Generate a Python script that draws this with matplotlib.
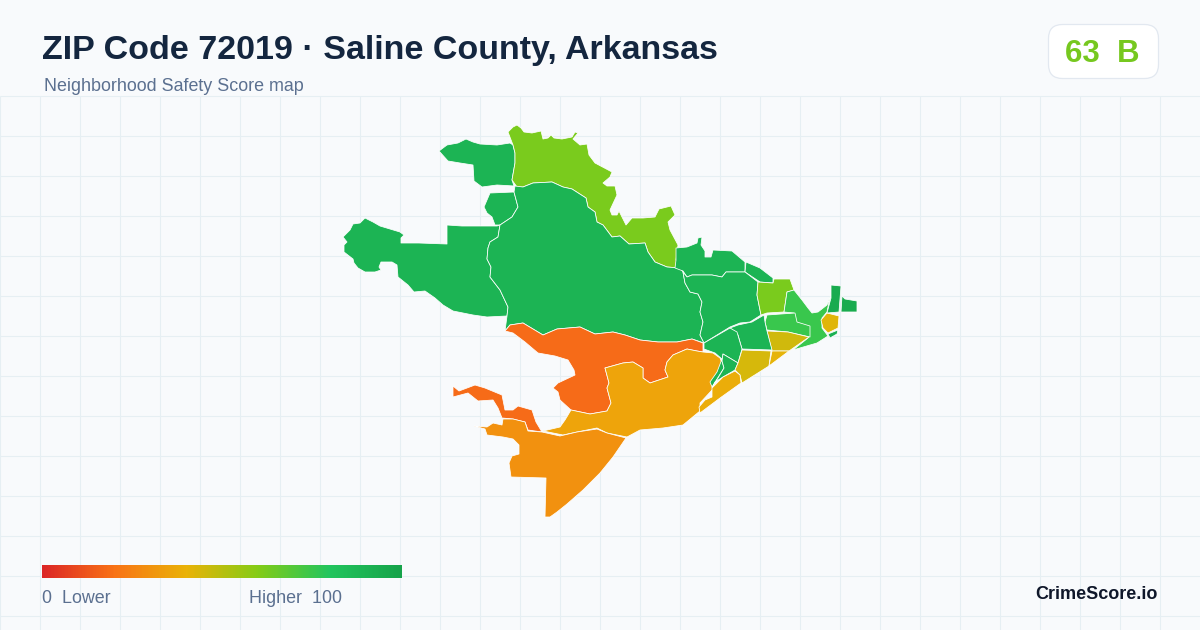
#PURPOSE: ZIP code safety score map, Saline County

#Required libraries
import numpy as np
import matplotlib
matplotlib.use('Agg')
import matplotlib.pyplot as plt
from matplotlib.colors import LinearSegmentedColormap
from matplotlib.patches import FancyBboxPatch, Polygon

plt.rcParams['font.family'] = ['Liberation Sans', 'DejaVu Sans']

title = 'ZIP Code 72019 · Saline County, Arkansas'
subtitle = 'Neighborhood Safety Score map'
score_text = '63  B'
brand = 'CrimeScore.io'
low_label = '0  Lower'
high_label = 'Higher  100'

#colour scale of the legend
scale_stops = [0, 0.2, 0.4, 0.6, 0.8, 1]
scale_colors = ['#dc2626', '#f97316', '#eab308', '#84cc16', '#22c55e', '#16a34a']

#outlines of the areas in pixels (x, y)
nw_top = [(439, 151), (447, 145), (458, 143), (466, 139), (473, 142), (480, 144), (497, 145), (510, 143),
          (513, 145), (515, 153), (515, 163), (512, 180), (514, 186), (497, 185), (482, 187), (474, 181),
          (473, 165), (460, 163), (448, 161)]
nw_small = [(490, 193), (514, 192), (518, 207), (512, 217), (500, 225), (495, 225), (492, 217), (487, 213),
            (484, 207)]
west = [(343, 237), (350, 230), (353, 224), (360, 223), (365, 218), (373, 222), (380, 226), (390, 229),
        (400, 232), (404, 235), (401, 238), (401, 243), (419, 243), (447, 244), (447, 225), (462, 226),
        (497, 226), (500, 225), (498, 237), (490, 242), (488, 248), (487, 259), (491, 267), (490, 277),
        (500, 290), (508, 307), (507, 316), (487, 317), (473, 315), (463, 313), (453, 311), (443, 305),
        (435, 298), (425, 291), (414, 292), (408, 285), (398, 277), (397, 265), (392, 262), (381, 262),
        (379, 267), (381, 270), (375, 272), (365, 272), (358, 268), (354, 263), (353, 259), (344, 252),
        (344, 245), (347, 242)]
north_lime = [(508, 132), (513, 127), (517, 125), (521, 128), (524, 132), (532, 133), (541, 131), (543, 139),
              (548, 138), (551, 135), (554, 138), (562, 139), (572, 137), (575, 132), (578, 133), (573, 139),
              (580, 145), (587, 144), (589, 155), (595, 163), (612, 172), (610, 177), (603, 183), (607, 186),
              (615, 186), (617, 195), (610, 210), (612, 215), (617, 215), (619, 211), (626, 225), (632, 218),
              (643, 218), (655, 217), (659, 209), (671, 206), (675, 215), (668, 222), (670, 230), (678, 245),
              (676, 260), (680, 268), (667, 267), (655, 262), (648, 252), (645, 243), (629, 244), (620, 236),
              (612, 237), (603, 225), (597, 222), (595, 212), (588, 207), (586, 198), (572, 189), (563, 187),
              (552, 182), (533, 183), (523, 187), (517, 187), (512, 180), (515, 163), (515, 153), (513, 145)]
central = [(515, 186), (523, 187), (533, 183), (552, 182), (563, 187), (572, 189), (586, 198), (588, 207),
           (595, 212), (597, 222), (603, 225), (612, 237), (620, 236), (629, 244), (645, 243), (648, 252),
           (655, 262), (667, 267), (680, 268), (683, 272), (685, 283), (690, 292), (698, 294), (702, 302),
           (700, 312), (703, 322), (700, 335), (704, 343), (692, 339), (677, 342), (658, 342), (640, 340),
           (625, 335), (613, 332), (595, 334), (580, 327), (557, 329), (543, 335), (533, 329), (523, 323),
           (510, 325), (505, 331), (507, 316), (508, 307), (500, 290), (490, 277), (491, 267), (487, 259),
           (488, 248), (490, 242), (498, 237), (500, 225), (512, 217), (518, 207), (514, 192)]
red_main = [(505, 331), (510, 325), (523, 323), (533, 329), (543, 335), (557, 329), (580, 327), (595, 334),
            (613, 332), (625, 335), (640, 340), (658, 342), (677, 342), (692, 339), (703, 343), (703, 352),
            (697, 351), (687, 349), (673, 355), (667, 362), (665, 370), (668, 377), (650, 383), (643, 378),
            (643, 368), (633, 362), (623, 363), (605, 368), (609, 383), (607, 388), (611, 403), (607, 411),
            (590, 414), (571, 410), (560, 400), (558, 392), (553, 388), (558, 383), (575, 375), (574, 370),
            (568, 360), (555, 356), (538, 353), (525, 342), (513, 333)]
red_strip = [(453, 386), (459, 391), (475, 385), (485, 388), (502, 395), (505, 410), (513, 410), (518, 406),
             (532, 410), (536, 422), (542, 432), (528, 430), (525, 422), (513, 419), (502, 418), (498, 408),
             (493, 400), (478, 401), (468, 393), (453, 397)]
yellow_main = [(605, 368), (623, 363), (633, 362), (643, 368), (643, 378), (650, 383), (668, 377), (665, 370),
               (667, 362), (673, 355), (687, 349), (697, 351), (703, 352), (713, 353), (720, 358), (722, 363),
               (712, 383), (713, 389), (700, 403), (700, 411), (683, 425), (663, 428), (640, 430), (627, 437),
               (607, 433), (597, 428), (577, 432), (563, 435), (543, 431), (560, 427), (565, 420), (571, 410),
               (590, 414), (607, 411), (611, 403), (607, 388), (609, 383)]
orange_south = [(474, 426), (487, 427), (493, 423), (502, 425), (503, 419), (513, 419), (525, 422), (528, 431),
                (542, 432), (560, 436), (577, 432), (597, 429), (607, 433), (626, 438), (613, 457), (600, 473),
                (583, 490), (567, 504), (557, 512), (550, 517), (545, 517), (546, 478), (511, 477), (509, 463),
                (512, 456), (519, 454), (519, 445), (513, 439), (503, 437), (487, 435), (485, 429)]
east_top = [(676, 248), (687, 247), (697, 243), (698, 238), (702, 237), (701, 245), (705, 251), (705, 257),
            (711, 257), (713, 250), (732, 251), (745, 262), (745, 272), (726, 272), (722, 277), (712, 275),
            (702, 275), (692, 275), (687, 277), (683, 271), (675, 268), (676, 260)]
east_sliver = [(746, 262), (760, 268), (773, 278), (773, 283), (760, 282), (745, 272)]
east_mid = [(683, 272), (685, 283), (690, 292), (698, 294), (702, 302), (700, 312), (703, 322), (700, 335),
            (704, 343), (730, 327), (740, 323), (750, 322), (761, 315), (757, 295), (758, 282), (745, 272),
            (726, 272), (722, 277), (712, 275), (702, 275), (692, 275), (687, 277)]
east_lime = [(758, 282), (773, 283), (774, 279), (790, 279), (794, 290), (787, 292), (784, 312), (767, 313),
             (761, 315), (757, 295)]
coast_green = [(794, 290), (802, 300), (808, 308), (812, 313), (818, 312), (827, 305), (830, 297), (827, 312),
               (822, 318), (822, 328), (828, 336), (817, 343), (793, 350), (808, 338), (809, 327), (796, 322),
               (794, 313), (784, 312), (787, 292)]
inner_green = [(767, 315), (795, 313), (797, 322), (810, 326), (810, 337), (788, 332), (767, 330), (765, 322)]
mustard_mid = [(767, 331), (788, 332), (809, 337), (789, 351), (772, 351)]
south_green = [(730, 328), (738, 325), (752, 322), (764, 315), (765, 322), (767, 331), (772, 350), (742, 349),
               (738, 335)]
junction_green = [(704, 343), (730, 328), (737, 332), (742, 349), (738, 363), (723, 354), (722, 361), (724, 368),
                  (712, 387), (710, 382), (717, 372), (722, 359), (715, 353), (704, 349)]
pocket_green = [(723, 354), (738, 363), (735, 370), (723, 377), (715, 382), (712, 388), (724, 368), (722, 361)]
mustard_left = [(742, 350), (771, 351), (769, 366), (742, 383), (740, 375), (735, 370), (738, 363)]
mustard_right = [(772, 351), (789, 351), (769, 366)]
coast_strip = [(735, 371), (740, 375), (741, 383), (720, 398), (700, 413), (699, 407), (705, 400), (712, 397),
               (712, 388), (723, 377)]
cape_mustard = [(827, 313), (839, 316), (838, 328), (828, 333), (823, 328), (821, 320)]
cape_green = [(828, 334), (838, 330), (837, 334), (830, 338)]
tip_north = [(831, 285), (841, 286), (839, 312), (827, 313), (831, 298)]
tip_east = [(842, 296), (845, 299), (857, 301), (857, 312), (841, 312)]

#score of each area, estimated from its fill colour
areas = [nw_top, nw_small, west, north_lime, central, red_main, red_strip, yellow_main, orange_south,
         east_top, east_sliver, east_mid, east_lime, coast_green, inner_green, mustard_mid, south_green,
         junction_green, pocket_green, mustard_left, mustard_right, coast_strip, cape_mustard, cape_green,
         tip_north, tip_east]
area_scores = [90, 90, 90, 62, 90, 18, 18, 35.5, 29.5, 90, 90, 90, 62, 75, 75, 45, 90, 90, 90, 44, 41, 38, 42,
               92, 95, 95]

scale = LinearSegmentedColormap.from_list('safety', list(zip(scale_stops, scale_colors)))

fig = plt.figure(figsize=(12, 6.3), dpi=100, facecolor='#f8fafc')
ax = fig.add_axes([0, 0, 1, 1])
ax.set_facecolor('#f8fafc')

#background grid
ax.vlines(np.arange(0, 1200, 40), 96, 630, color='#e6eff3', lw=0.75, zorder=1)
ax.hlines(np.arange(96, 630, 40), 0, 1200, color='#e6eff3', lw=0.75, zorder=1)

#map areas
for outline, value in zip(areas, area_scores):
    ax.add_patch(Polygon(outline, closed=True, facecolor=scale(value / 100), edgecolor='white', lw=0.55,
                         joinstyle='round', zorder=2))

#header
ax.text(42, 59, title, fontsize=24.5, fontweight='bold', color='#14263f', va='baseline', ha='left')
ax.text(44, 91, subtitle, fontsize=12.9, color='#5b7090', va='baseline', ha='left')

#score badge
ax.add_patch(FancyBboxPatch((1048.5, 24.5), 110, 54, boxstyle='round,pad=0,rounding_size=14',
                            facecolor='white', edgecolor='#e2e8f0', lw=0.9, zorder=2))
ax.text(1102.5, 62, score_text, fontsize=22.5, fontweight='bold', color='#76c81f', va='baseline', ha='center',
        zorder=3)

#legend
gradient = np.linspace(0, 1, 360).reshape(1, -1)
ax.imshow(gradient, cmap=scale, extent=(42, 402, 578, 565), aspect='auto', zorder=2)
ax.text(42, 603, low_label, fontsize=12.9, color='#5b7090', va='baseline', ha='left')
ax.text(249, 603, high_label, fontsize=12.9, color='#5b7090', va='baseline', ha='left')

ax.text(1158, 599, brand, fontsize=13, fontweight='bold', color='#0f172a', va='baseline', ha='right')

ax.set_xlim(0, 1200)
ax.set_ylim(630, 0)
ax.axis('off')

plt.savefig('out.png', dpi=100, facecolor=fig.get_facecolor())
